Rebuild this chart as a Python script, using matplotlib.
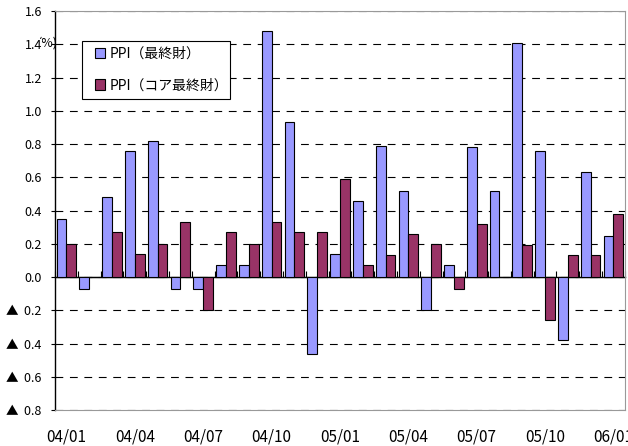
import numpy as np
import matplotlib
matplotlib.use("Agg")
import matplotlib.pyplot as plt
from matplotlib.patches import Rectangle

plt.rcParams['font.family'] = ['Noto Sans CJK JP', 'DejaVu Sans']

# 月次データ 04/01 - 06/01
months = ["04/01", "04/02", "04/03", "04/04", "04/05", "04/06", "04/07", "04/08",
          "04/09", "04/10", "04/11", "04/12", "05/01", "05/02", "05/03", "05/04",
          "05/05", "05/06", "05/07", "05/08", "05/09", "05/10", "05/11", "05/12", "06/01"]
ppi_final = [0.35, -0.07, 0.48, 0.76, 0.82, -0.07, -0.07, 0.07, 0.07, 1.48, 0.93, -0.46,
             0.14, 0.46, 0.79, 0.52, -0.20, 0.07, 0.78, 0.52, 1.41, 0.76, -0.38, 0.63, 0.25]
ppi_core = [0.20, 0.0, 0.27, 0.14, 0.20, 0.33, -0.20, 0.27, 0.20, 0.33, 0.27, 0.27,
            0.59, 0.07, 0.13, 0.26, 0.20, -0.07, 0.32, 0.0, 0.19, -0.26, 0.13, 0.13, 0.38]
label_names = ["PPI（最終財）", "PPI（コア最終財）"]
y_ticks = [-0.8, -0.6, -0.4, -0.2, 0.0, 0.2, 0.4, 0.6, 0.8, 1.0, 1.2, 1.4, 1.6]

x = np.arange(len(months))
w = 0.43
ymin, ymax = -0.8, 1.6

fig = plt.figure(figsize=(6.28, 4.46), dpi=100)
ax = fig.add_axes([0.0876, 0.0807, 0.9074, 0.8943])

ax.bar(x - w / 2, ppi_final, w, color='#9999FF', edgecolor='black', linewidth=0.8,
       label=label_names[0], zorder=3)
ax.bar(x + w / 2, ppi_core, w, color='#993366', edgecolor='black', linewidth=0.8,
       label=label_names[1], zorder=3)

ax.set_xlim(-0.5, len(months) - 0.5)
ax.set_ylim(ymin, ymax)

# y軸（マイナスは▲表記）
def ylab(v):
    if v < 0:
        return "▲  {:.1f}".format(abs(v))
    return "{:.1f}".format(v)

ax.set_yticks(y_ticks)
ax.set_yticklabels([ylab(v) for v in y_ticks])
ax.tick_params(axis='y', direction='out', length=3, width=0.8, labelsize=9, pad=6.5)
ax.yaxis.grid(True, color='black', linestyle=(0, (7, 6)), linewidth=0.8, zorder=1)
ax.set_axisbelow(True)
for t in ax.get_yticklabels():
    if t.get_text() == "1.4":
        t.set_bbox(dict(facecolor='white', edgecolor='none', pad=0))

# x軸ラベル（下端）
ax.set_xticks(x[::3])
ax.set_xticklabels(months[::3])
ax.tick_params(axis='x', length=0, labelsize=11, pad=13)

for s in ['top', 'right', 'bottom']:
    ax.spines[s].set_color('#999999')
    ax.spines[s].set_linewidth(0.8)
ax.spines['left'].set_color('black')
ax.spines['left'].set_linewidth(1.0)

# ゼロ線と目盛
zero_pos = (0 - ymin) / (ymax - ymin)
sec = ax.secondary_xaxis(zero_pos)
sec.set_xticks(np.arange(len(months) + 1) - 0.5)
sec.set_xticklabels([])
sec.tick_params(axis='x', direction='in', length=4, width=0.8)
sec.spines['bottom'].set_color('black')
sec.spines['bottom'].set_linewidth(1.0)
sec.spines['top'].set_visible(False)

# 単位
fig.text(38 / 628, 1 - 43 / 446, "(%)", fontsize=9, ha='left', va='center', zorder=-1)

# 凡例
ax.add_patch(Rectangle((0.047, 0.779), 0.26, 0.146, transform=ax.transAxes,
                       facecolor='white', edgecolor='black', linewidth=0.8, zorder=5))
leg = ax.legend(loc='upper left', bbox_to_anchor=(0.065, 0.917), fontsize=10,
                frameon=False, labelspacing=1.25, handlelength=0.75, handleheight=0.75,
                handletextpad=0.3, borderpad=0.2, borderaxespad=0)
leg.set_zorder(6)

fig.savefig("out.png", dpi=100)
